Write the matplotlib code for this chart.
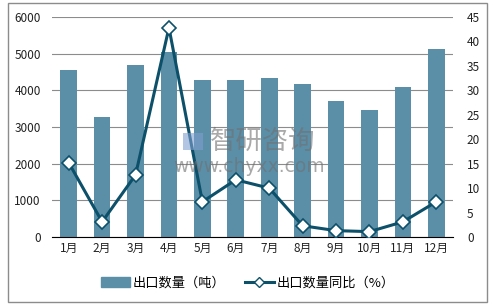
import matplotlib.pyplot as plt
import numpy as np
from matplotlib.patches import Rectangle
from matplotlib.lines import Line2D

plt.rcParams['font.family'] = ['Noto Sans CJK SC', 'DejaVu Sans']

months = ['1月', '2月', '3月', '4月', '5月', '6月', '7月', '8月', '9月', '10月', '11月', '12月']
volume = [4560, 3270, 4690, 5050, 4280, 4280, 4340, 4170, 3710, 3460, 4090, 5130]  # 出口数量（吨）
yoy = [15.2, 3.1, 12.7, 42.8, 7.2, 11.7, 10.0, 2.3, 1.3, 1.1, 3.1, 7.2]  # 同比（%）

bar_c = '#5b8fa8'
line_c = '#0d5069'

fig = plt.figure(figsize=(5, 3.08), dpi=100)
fig.patches.append(Rectangle((8 / 500, 1 - 302 / 308), 479 / 500, 299 / 308,
                             transform=fig.transFigure, fill=False, ec='#8c8c8c', lw=1))
ax = fig.add_axes([52 / 500, 1 - 237 / 308, 401 / 500, 220 / 308])
x = np.arange(len(months))
ax.bar(x, volume, width=0.5, color=bar_c, zorder=2)
ax.set_ylim(0, 6000)
ax.set_yticks(range(0, 6001, 1000))
ax.set_xlim(-0.5, len(months) - 0.5)
ax.set_xticks(x)
ax.set_xticklabels(months)
ax.grid(axis='y', color='#8c8c8c', lw=0.8, zorder=0)
for s in ['top', 'right', 'left']:
    ax.spines[s].set_visible(False)
ax.spines['bottom'].set_color('black')
ax.tick_params(length=0, labelsize=8.5, colors='#222222')
ax.tick_params(axis='y', pad=8)

ax2 = ax.twinx()
ax2.plot(x, yoy, color=line_c, lw=2.2, marker='D', ms=7, mfc='white', mec=line_c, mew=1.2, zorder=3)
ax2.set_ylim(0, 45)
ax2.set_yticks(range(0, 46, 5))
for s in ['top', 'right', 'left', 'bottom']:
    ax2.spines[s].set_visible(False)
ax2.tick_params(length=0, labelsize=8.5, colors='#222222', pad=10)

# watermark
fig.patches.append(Rectangle((183 / 500, 1 - 150 / 308), 20 / 500, 17 / 308, transform=fig.transFigure,
                             fc='#7f9fd0', ec='none', alpha=0.6, zorder=5))
fig.text(263 / 500, 1 - 141 / 308, '智研咨询', fontsize=19, color='#707070', alpha=0.6,
         ha='center', va='center', zorder=5)
fig.text(249 / 500, 1 - 166 / 308, 'www.chyxx.com', fontsize=13.5, color='#707070', alpha=0.6,
         ha='center', va='center', family='DejaVu Sans', zorder=5)

handles = [Rectangle((0, 0), 1, 1, color=bar_c),
           Line2D([], [], color=line_c, lw=2.2, marker='D', ms=5, mfc='white', mec=line_c)]
fig.legend(handles, ['出口数量（吨）', '出口数量同比（%）'], loc='center', bbox_to_anchor=(0.495, 1 - 283 / 308),
           ncol=2, frameon=False, fontsize=9.5, handlelength=2.2, columnspacing=1.5, handletextpad=0.2)

fig.savefig('out.png', dpi=100)
